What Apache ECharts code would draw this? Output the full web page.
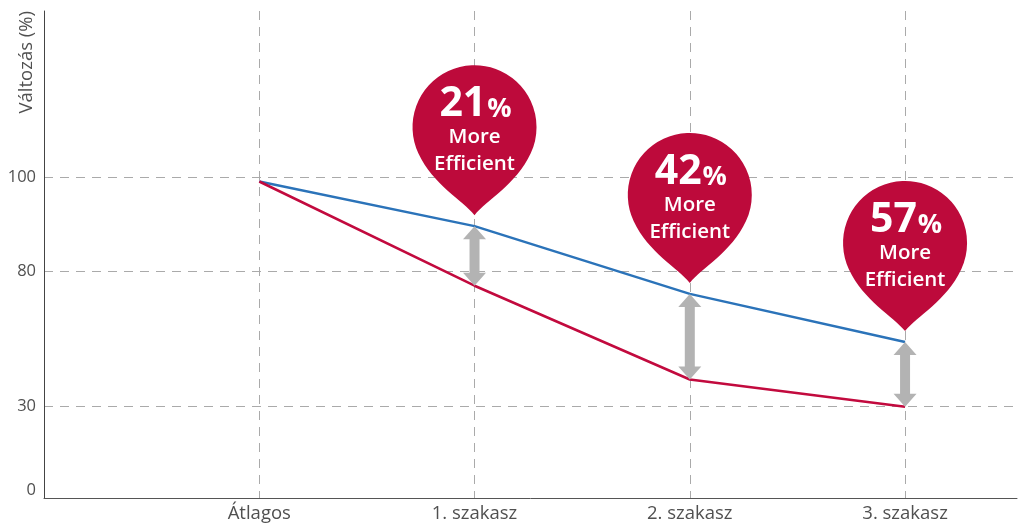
<!DOCTYPE html>
<html>
<head>
<meta charset="utf-8">
<script src="https://cdn.jsdelivr.net/npm/echarts@6/dist/echarts.min.js"></script>
<style>
  html, body { margin: 0; padding: 0; background: #fff; }
  #chart { width: 1018px; height: 524px; }
</style>
</head>
<body>
<div id="chart"></div>
<script>
// ---- data ----
const categories = ['Átlagos', '1. szakasz', '2. szakasz', '3. szakasz'];
const standardValues = [99, 89.5, 71.5, 53.8];   // blue line
const efficientValues = [99, 74.5, 40, 30];      // red line
const gainPercent = [null, 21, 42, 57];          // pin labels per category
const pinCaption = 'More\nEfficient';
const yTickValues = [0, 30, 80, 100];
const yGridValues = [30, 80, 100];
const yAxisTitle = 'Változás (%)';

// ---- non-uniform y scale (piecewise linear between tick values) ----
const scaleIn = [0, 30, 80, 100];
const scaleOut = [0, 83.3, 219.2, 313.2];
function warp(v) {
  for (let i = 0; i < scaleIn.length - 1; i++) {
    if (v <= scaleIn[i + 1] || i === scaleIn.length - 2) {
      const t = (v - scaleIn[i]) / (scaleIn[i + 1] - scaleIn[i]);
      return scaleOut[i] + t * (scaleOut[i + 1] - scaleOut[i]);
    }
  }
}
function unwarp(w) {
  for (let i = 0; i < scaleOut.length - 1; i++) {
    if (w <= scaleOut[i + 1] + 1e-6 || i === scaleOut.length - 2) {
      const t = (w - scaleOut[i]) / (scaleOut[i + 1] - scaleOut[i]);
      return scaleIn[i] + t * (scaleIn[i + 1] - scaleIn[i]);
    }
  }
}

const FONT = '"Open Sans", "Noto Sans", sans-serif';
const BLUE = '#2b73b9';
const RED = '#c20a3e';
const PIN = '#bd0a3b';
const ARROW = '#b3b3b3';
const PIN_PATH = 'M62 150C50 135 20.6 119.9 5.8 88.2A62 62 0 1 1 118.2 88.2C103.4 119.9 74 135 62 150Z';

const blueData = categories.map((c, i) => [i, warp(standardValues[i])]);
const redData = categories.map((c, i) => [i, warp(efficientValues[i])]);
const arrowData = categories.map((c, i) => [i, warp(standardValues[i]), warp(efficientValues[i])])
  .filter((d, i) => gainPercent[i] != null);
const pinData = categories.map((c, i) => [i, warp(standardValues[i]), gainPercent[i]])
  .filter(d => d[2] != null);

const chart = echarts.init(document.getElementById('chart'), null, { renderer: 'canvas' });

const option = {
  animation: false,
  backgroundColor: '#fff',
  grid: { left: 44, right: 1, top: 11, bottom: 26, containLabel: false, outerBoundsMode: 'none' },
  xAxis: {
    type: 'value',
    min: -1,
    max: 3.52,
    axisLine: { show: true, onZero: false, lineStyle: { color: '#555', width: 1 } },
    axisTick: { show: false, customValues: [0, 1, 2, 3] },
    axisLabel: {
      customValues: [0, 1, 2, 3],
      formatter: v => categories[Math.round(v)] || '',
      color: '#505050', fontSize: 18.5, fontFamily: FONT, fontWeight: 400, margin: 6
    },
    splitLine: { show: true, lineStyle: { color: '#aaa', type: [9, 7], width: 1 } }
  },
  yAxis: {
    type: 'value',
    min: -8,
    max: 479,
    name: yAxisTitle,
    nameLocation: 'end',
    nameRotate: 90,
    nameGap: 0,
    nameTextStyle: {
      color: '#505050', fontSize: 18.5, fontFamily: FONT, fontWeight: 400,
      align: 'right', verticalAlign: 'bottom', padding: [0, 0, 8, 0]
    },
    axisLine: { show: true, onZero: false, lineStyle: { color: '#444', width: 1 } },
    axisTick: { show: false, customValues: yGridValues.map(warp) },
    axisLabel: {
      customValues: yTickValues.map(warp),
      formatter: v => String(Math.round(unwarp(v))),
      color: '#505050', fontSize: 16.5, fontFamily: FONT, fontWeight: 400, margin: 8
    },
    splitLine: { show: true, lineStyle: { color: '#aaa', type: [9, 7], width: 1 } }
  },
  series: [
    {
      name: 'Standard', type: 'line', data: blueData, symbol: 'none',
      lineStyle: { color: BLUE, width: 2.5 }, z: 3
    },
    {
      name: 'Efficient', type: 'line', data: redData, symbol: 'none',
      lineStyle: { color: RED, width: 2.5 }, z: 3
    },
    {
      name: 'Difference', type: 'custom', data: arrowData, z: 4,
      renderItem: function (params, api) {
        const top = api.coord([api.value(0), api.value(1)]);
        const bot = api.coord([api.value(0), api.value(2)]);
        const x = top[0], t = top[1], b = bot[1];
        const hw = 11.5, sw = 5, hl = 13;
        return {
          type: 'polygon',
          shape: {
            points: [
              [x, t], [x + hw, t + hl], [x + sw, t + hl], [x + sw, b - hl], [x + hw, b - hl],
              [x, b], [x - hw, b - hl], [x - sw, b - hl], [x - sw, t + hl], [x - hw, t + hl]
            ]
          },
          style: { fill: ARROW }
        };
      }
    },
    {
      name: 'Gain', type: 'custom', data: pinData, z: 5,
      renderItem: function (params, api) {
        const p = api.coord([api.value(0), api.value(1)]);
        const W = 124, H = 150;
        const tip = p[1] - 11;
        const top = tip - H;
        return {
          type: 'group',
          children: [
            {
              type: 'path',
              shape: { pathData: PIN_PATH, x: p[0] - W / 2, y: top, width: W, height: H, layout: 'cover' },
              style: { fill: PIN }
            },
            {
              type: 'text', x: p[0] + 1, y: top + 38,
              style: {
                text: '{n|' + api.value(2) + '}{p|%}',
                align: 'center', verticalAlign: 'middle', fill: '#fff',
                rich: {
                  n: { fontSize: 41, fontWeight: 700, fontFamily: FONT, fill: '#fff', verticalAlign: 'bottom', lineHeight: 44 },
                  p: { fontSize: 27, fontWeight: 700, fontFamily: FONT, fill: '#fff', verticalAlign: 'bottom', lineHeight: 44, padding: [0, 0, 2, 1] }
                }
              }
            },
            {
              type: 'text', x: p[0], y: top + 86,
              style: {
                text: pinCaption,
                align: 'center', verticalAlign: 'middle', fill: '#fff',
                fontSize: 20.5, fontWeight: 600, fontFamily: FONT, lineHeight: 27
              }
            }
          ]
        };
      }
    }
  ]
};

chart.setOption(option);
</script>
</body>
</html>
